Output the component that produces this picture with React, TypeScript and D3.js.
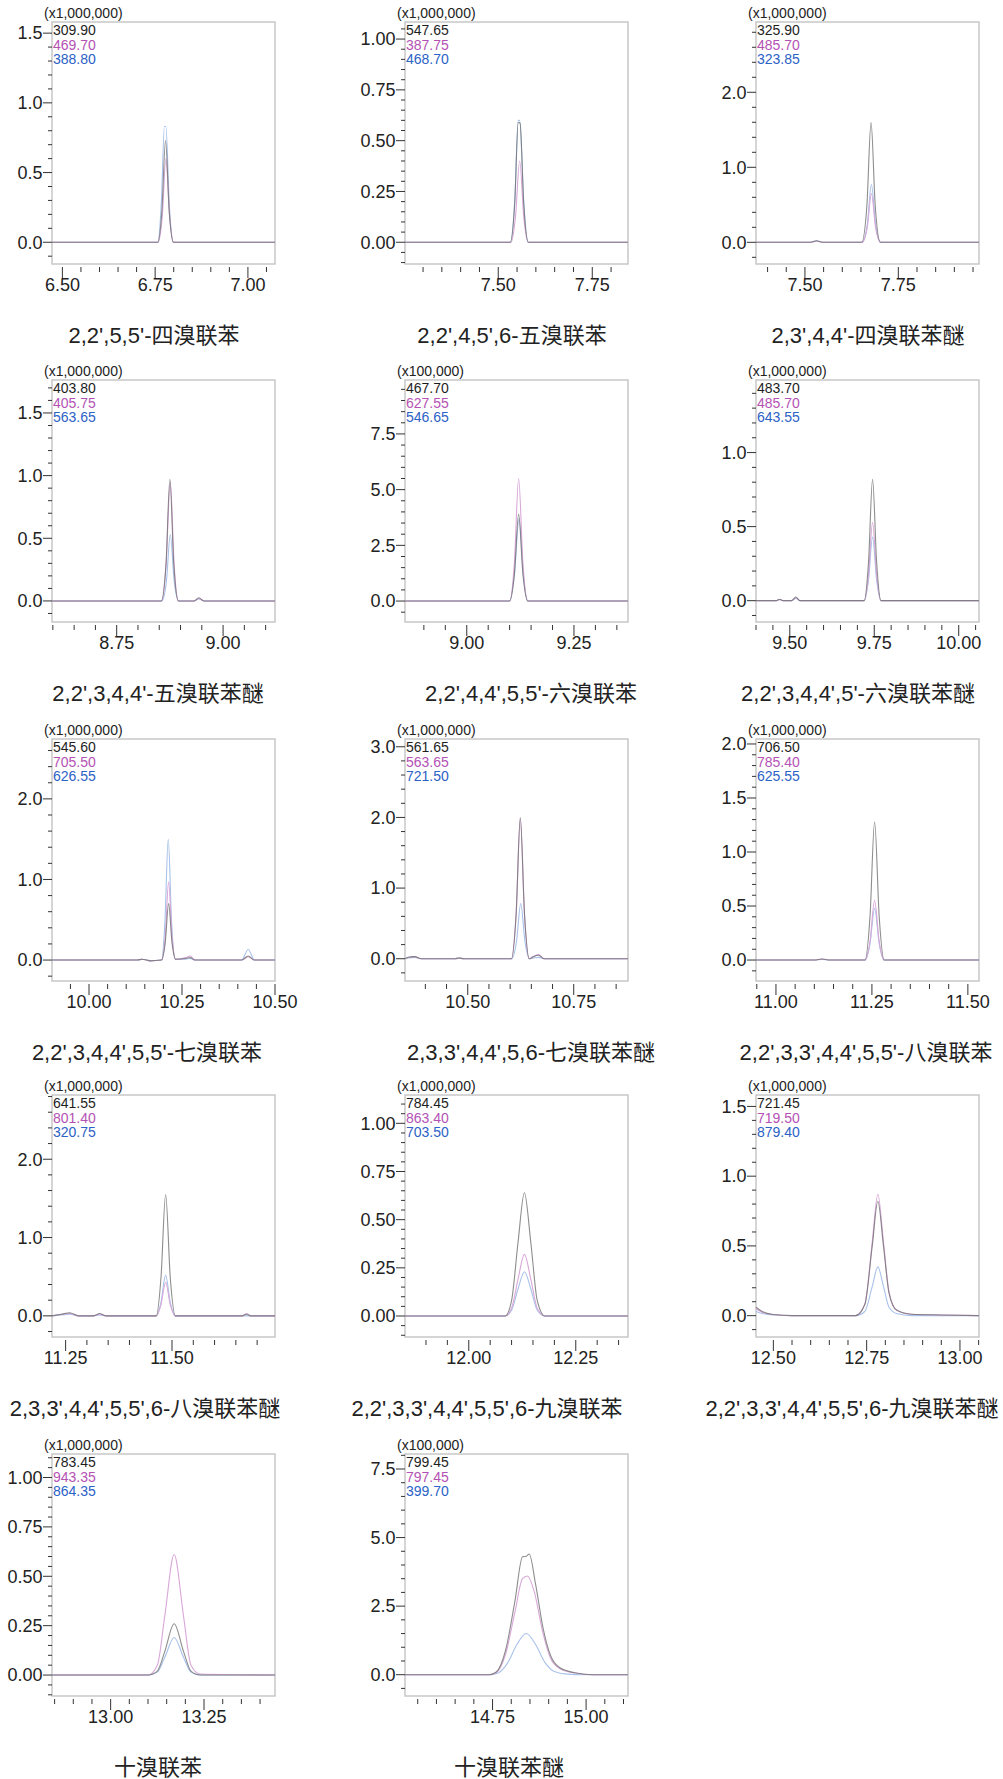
import React from 'react';
import * as d3 from 'd3';

type Pt = [number, number];

// compound names under each chromatogram
const titles = [
  "2,2',5,5'-四溴联苯", "2,2',4,5',6-五溴联苯", "2,3',4,4'-四溴联苯醚",
  "2,2',3,4,4'-五溴联苯醚", "2,2',4,4',5,5'-六溴联苯", "2,2',3,4,4',5'-六溴联苯醚",
  "2,2',3,4,4',5,5'-七溴联苯", "2,3,3',4,4',5,6-七溴联苯醚", "2,2',3,3',4,4',5,5'-八溴联苯",
  "2,3,3',4,4',5,5',6-八溴联苯醚", "2,2',3,3',4,4',5,5',6-九溴联苯", "2,2',3,3',4,4',5,5',6-九溴联苯醚",
  '十溴联苯', '十溴联苯醚',
];

const multipliers = [
  '(x1,000,000)', '(x1,000,000)', '(x1,000,000)',
  '(x1,000,000)', '(x100,000)', '(x1,000,000)',
  '(x1,000,000)', '(x1,000,000)', '(x1,000,000)',
  '(x1,000,000)', '(x1,000,000)', '(x1,000,000)',
  '(x1,000,000)', '(x100,000)',
];

// m/z of the three ions: black, magenta, blue
const ions = [
  ['309.90', '469.70', '388.80'], ['547.65', '387.75', '468.70'], ['325.90', '485.70', '323.85'],
  ['403.80', '405.75', '563.65'], ['467.70', '627.55', '546.65'], ['483.70', '485.70', '643.55'],
  ['545.60', '705.50', '626.55'], ['561.65', '563.65', '721.50'], ['706.50', '785.40', '625.55'],
  ['641.55', '801.40', '320.75'], ['784.45', '863.40', '703.50'], ['721.45', '719.50', '879.40'],
  ['783.45', '943.35', '864.35'], ['799.45', '797.45', '399.70'],
];

// retention time window (min)
const xDomains: Pt[] = [
  [6.472, 7.073], [7.252, 7.845], [7.369, 7.966],
  [8.598, 9.122], [8.856, 9.376], [9.40, 10.06],
  [9.9005, 10.5], [10.352, 10.878], [10.948, 11.529],
  [11.218, 11.742], [11.851, 12.372], [12.4535, 13.051],
  [12.843, 13.44], [14.516, 15.112],
];

const yDomains: Pt[] = [
  [-0.156, 1.58], [-0.107, 1.084], [-0.289, 2.937],
  [-0.168, 1.763], [-0.94, 9.92], [-0.144, 1.49],
  [-0.26, 2.743], [-0.315, 3.11], [-0.194, 2.046],
  [-0.27, 2.82], [-0.109, 1.147], [-0.153, 1.582],
  [-0.106, 1.119], [-0.777, 8.047],
];

const yMajor = [0.5, 0.25, 1, 0.5, 2.5, 0.5, 1, 1, 0.5, 1, 0.25, 0.5, 0.25, 2.5];

// traces: [black, magenta, blue], points [time, intensity]
const p01: Pt[][] = [
  [[6.472, 0], [6.757, 0], [6.768, 0.22], [6.778, 0.73], [6.788, 0.22], [6.799, 0], [7.073, 0]],
  [[6.472, 0], [6.758, 0], [6.769, 0.18], [6.779, 0.6], [6.789, 0.18], [6.8, 0], [7.073, 0]],
  [[6.472, 0], [6.757, 0], [6.767, 0.3], [6.775, 0.83], [6.779, 0.83], [6.788, 0.28], [6.799, 0], [7.073, 0]],
];
const p02: Pt[][] = [
  [[7.252, 0], [7.532, 0], [7.544, 0.2], [7.553, 0.59], [7.558, 0.585], [7.568, 0.18], [7.58, 0], [7.845, 0]],
  [[7.252, 0], [7.534, 0], [7.546, 0.13], [7.557, 0.4], [7.568, 0.12], [7.58, 0], [7.845, 0]],
  [[7.252, 0], [7.532, 0], [7.544, 0.21], [7.553, 0.6], [7.557, 0.6], [7.568, 0.19], [7.58, 0], [7.845, 0]],
];
const p03: Pt[][] = [
  [[7.369, 0], [7.515, 0], [7.531, 0.02], [7.547, 0], [7.652, 0], [7.666, 0.5], [7.677, 1.6], [7.688, 0.5], [7.702, 0], [7.966, 0]],
  [[7.369, 0], [7.515, 0], [7.531, 0.015], [7.547, 0], [7.653, 0], [7.667, 0.2], [7.678, 0.65], [7.689, 0.2], [7.703, 0], [7.966, 0]],
  [[7.369, 0], [7.515, 0], [7.531, 0.02], [7.547, 0], [7.653, 0], [7.667, 0.24], [7.678, 0.77], [7.689, 0.24], [7.703, 0], [7.966, 0]],
];
const p04: Pt[][] = [
  [[8.598, 0], [8.855, 0], [8.866, 0.3], [8.875, 0.97], [8.884, 0.3], [8.895, 0], [8.932, 0], [8.943, 0.025], [8.955, 0], [9.122, 0]],
  [[8.598, 0], [8.855, 0], [8.866, 0.29], [8.876, 0.95], [8.885, 0.29], [8.895, 0], [8.932, 0], [8.943, 0.02], [8.955, 0], [9.122, 0]],
  [[8.598, 0], [8.856, 0], [8.867, 0.16], [8.876, 0.53], [8.885, 0.16], [8.896, 0], [8.932, 0], [8.943, 0.015], [8.955, 0], [9.122, 0]],
];
const p05: Pt[][] = [
  [[8.856, 0], [9.1, 0], [9.111, 1.2], [9.121, 3.9], [9.131, 1.2], [9.142, 0], [9.376, 0]],
  [[8.856, 0], [9.1, 0], [9.111, 1.7], [9.121, 5.5], [9.131, 1.7], [9.142, 0], [9.376, 0]],
  [[8.856, 0], [9.1, 0], [9.111, 1.15], [9.122, 3.7], [9.132, 1.15], [9.143, 0], [9.376, 0]],
];
const p06: Pt[][] = [
  [[9.4, 0], [9.46, 0], [9.47, 0.01], [9.48, 0], [9.505, 0], [9.518, 0.025], [9.53, 0], [9.72, 0], [9.733, 0.26], [9.745, 0.82], [9.757, 0.26], [9.77, 0], [10.06, 0]],
  [[9.4, 0], [9.46, 0], [9.47, 0.008], [9.48, 0], [9.505, 0], [9.518, 0.02], [9.53, 0], [9.72, 0], [9.733, 0.17], [9.745, 0.53], [9.757, 0.17], [9.77, 0], [10.06, 0]],
  [[9.4, 0], [9.46, 0], [9.47, 0.008], [9.48, 0], [9.505, 0], [9.518, 0.015], [9.53, 0], [9.72, 0], [9.733, 0.14], [9.745, 0.43], [9.757, 0.14], [9.77, 0], [10.06, 0]],
];
const p07: Pt[][] = [
  [[9.9005, 0], [10.13, 0], [10.143, 0.01], [10.155, 0], [10.164, -0.01], [10.195, 0], [10.205, 0.22], [10.214, 0.7], [10.223, 0.22], [10.233, 0.01], [10.26, 0.02], [10.272, 0.03], [10.285, 0], [10.41, 0], [10.428, 0.05], [10.445, 0], [10.5, 0]],
  [[9.9005, 0], [10.13, 0], [10.143, 0.01], [10.155, 0], [10.164, -0.01], [10.195, 0], [10.205, 0.3], [10.214, 0.97], [10.223, 0.3], [10.233, 0.01], [10.26, 0.03], [10.272, 0.05], [10.285, 0], [10.41, 0], [10.428, 0.04], [10.445, 0], [10.5, 0]],
  [[9.9005, 0], [10.13, 0], [10.143, 0.01], [10.155, 0], [10.164, -0.01], [10.195, 0], [10.204, 0.47], [10.213, 1.5], [10.222, 0.47], [10.232, 0.01], [10.26, 0.01], [10.272, 0.02], [10.285, 0], [10.41, 0], [10.428, 0.13], [10.445, 0], [10.5, 0]],
];
const p08: Pt[][] = [
  [[10.352, 0], [10.36, 0.02], [10.375, 0.03], [10.39, 0], [10.47, 0], [10.48, 0.01], [10.49, 0], [10.603, 0], [10.614, 0.62], [10.624, 2.0], [10.634, 0.62], [10.645, 0], [10.655, 0.03], [10.667, 0.05], [10.68, 0], [10.878, 0]],
  [[10.352, 0], [10.36, 0.02], [10.375, 0.03], [10.39, 0], [10.47, 0], [10.48, 0.01], [10.49, 0], [10.603, 0], [10.614, 0.61], [10.624, 1.98], [10.634, 0.61], [10.645, 0], [10.655, 0.03], [10.667, 0.06], [10.68, 0], [10.878, 0]],
  [[10.352, 0], [10.36, 0.01], [10.375, 0.02], [10.39, 0], [10.47, 0], [10.48, 0.01], [10.49, 0], [10.604, 0], [10.615, 0.24], [10.625, 0.78], [10.635, 0.24], [10.646, 0], [10.655, 0.01], [10.667, 0.02], [10.68, 0], [10.878, 0]],
];
const p09: Pt[][] = [
  [[10.948, 0], [11.1, 0], [11.12, 0.01], [11.14, 0], [11.232, 0], [11.245, 0.4], [11.257, 1.28], [11.269, 0.4], [11.282, 0], [11.529, 0]],
  [[10.948, 0], [11.1, 0], [11.12, 0.01], [11.14, 0], [11.232, 0], [11.245, 0.17], [11.257, 0.55], [11.269, 0.17], [11.282, 0], [11.529, 0]],
  [[10.948, 0], [11.1, 0], [11.12, 0.005], [11.14, 0], [11.232, 0], [11.245, 0.15], [11.257, 0.48], [11.269, 0.15], [11.282, 0], [11.529, 0]],
];
const p10: Pt[][] = [
  [[11.218, 0], [11.24, 0.02], [11.26, 0.04], [11.28, 0], [11.315, 0], [11.33, 0.03], [11.345, 0], [11.463, 0], [11.474, 0.48], [11.485, 1.55], [11.496, 0.48], [11.508, 0], [11.665, 0], [11.675, 0.02], [11.685, 0], [11.742, 0]],
  [[11.218, 0], [11.24, 0.02], [11.26, 0.03], [11.28, 0], [11.315, 0], [11.33, 0.02], [11.345, 0], [11.463, 0], [11.474, 0.14], [11.485, 0.43], [11.496, 0.14], [11.508, 0], [11.665, 0], [11.675, 0.03], [11.685, 0], [11.742, 0]],
  [[11.218, 0], [11.24, 0.01], [11.26, 0.02], [11.28, 0], [11.315, 0], [11.33, 0.01], [11.345, 0], [11.463, 0], [11.474, 0.17], [11.485, 0.52], [11.496, 0.17], [11.508, 0], [11.665, 0], [11.742, 0]],
];
const p11: Pt[][] = [
  [[11.851, 0], [12.085, 0], [12.1, 0.08], [12.115, 0.38], [12.13, 0.64], [12.145, 0.38], [12.16, 0.08], [12.178, 0], [12.372, 0]],
  [[11.851, 0], [12.085, 0], [12.1, 0.04], [12.115, 0.19], [12.13, 0.32], [12.145, 0.19], [12.16, 0.04], [12.178, 0], [12.372, 0]],
  [[11.851, 0], [12.085, 0], [12.1, 0.03], [12.115, 0.14], [12.13, 0.23], [12.145, 0.14], [12.16, 0.03], [12.178, 0], [12.372, 0]],
];
const p12: Pt[][] = [
  [[12.4535, 0.06], [12.47, 0.03], [12.5, 0.008], [12.55, 0], [12.72, 0], [12.745, 0.08], [12.765, 0.5], [12.78, 0.82], [12.795, 0.5], [12.81, 0.16], [12.83, 0.04], [12.87, 0.01], [12.95, 0.005], [13.051, 0]],
  [[12.4535, 0.05], [12.47, 0.025], [12.5, 0.008], [12.55, 0], [12.72, 0], [12.745, 0.08], [12.765, 0.53], [12.78, 0.87], [12.795, 0.53], [12.81, 0.17], [12.83, 0.04], [12.87, 0.01], [12.95, 0.005], [13.051, 0]],
  [[12.4535, 0.03], [12.47, 0.015], [12.5, 0.005], [12.55, 0], [12.72, 0], [12.745, 0.03], [12.765, 0.21], [12.78, 0.35], [12.795, 0.21], [12.81, 0.06], [12.83, 0.015], [12.87, 0], [13.051, 0]],
];
const p13: Pt[][] = [
  [[12.843, 0], [13.1, 0], [13.125, 0.02], [13.145, 0.12], [13.17, 0.26], [13.195, 0.12], [13.215, 0.02], [13.24, 0], [13.44, 0]],
  [[12.843, 0], [13.1, 0], [13.125, 0.05], [13.145, 0.3], [13.17, 0.61], [13.195, 0.3], [13.215, 0.05], [13.24, 0.005], [13.44, 0]],
  [[12.843, 0], [13.1, 0], [13.125, 0.015], [13.145, 0.09], [13.17, 0.19], [13.195, 0.09], [13.215, 0.015], [13.24, 0], [13.44, 0]],
];
const p14: Pt[][] = [
  [[14.516, 0], [14.74, 0], [14.76, 0.1], [14.785, 0.9], [14.81, 2.7], [14.83, 4.3], [14.84, 4.32], [14.848, 4.4], [14.865, 3.3], [14.885, 1.7], [14.905, 0.7], [14.93, 0.25], [14.97, 0.07], [15.02, 0], [15.112, 0]],
  [[14.516, 0], [14.74, 0], [14.76, 0.08], [14.785, 0.75], [14.81, 2.3], [14.83, 3.5], [14.843, 3.6], [14.86, 3.1], [14.885, 1.5], [14.905, 0.6], [14.93, 0.22], [14.97, 0.06], [15.02, 0], [15.112, 0]],
  [[14.516, 0], [14.745, 0], [14.765, 0.06], [14.79, 0.42], [14.815, 1.1], [14.84, 1.5], [14.865, 1.1], [14.89, 0.45], [14.915, 0.12], [14.95, 0.02], [14.99, 0], [15.112, 0]],
];
const traces = [p01, p02, p03, p04, p05, p06, p07, p08, p09, p10, p11, p12, p13, p14];

// page layout
const colLeft = [52, 405, 756];
const rowTop = [22, 380, 739, 1095, 1454];
const frameW = 223;
const frameH = 242;
const titleCx = [154, 512, 868, 158, 531, 858, 147, 531, 866, 145, 487, 852, 158, 509];

const lineColors = ['#707070', '#d9a8d9', '#a8c2ea'];
const ionColors = ['#1e1e1e', '#b452b4', '#2c62c6'];
const numFont = '"Liberation Sans", Arial, sans-serif';
const titleFont = '"Liberation Sans", "Noto Sans CJK SC", sans-serif';

function Panel({ i }: { i: number }) {
  const left = colLeft[i % 3];
  const top = rowTop[Math.floor(i / 3)];
  const x = d3.scaleLinear().domain(xDomains[i]).range([0, frameW]);
  const y = d3.scaleLinear().domain(yDomains[i]).range([frameH, 0]);
  const line = d3.line<Pt>().x((d) => x(d[0])).y((d) => y(d[1])).curve(d3.curveMonotoneX);

  const [x0, x1] = xDomains[i];
  const xt: { v: number; major: boolean }[] = [];
  for (let k = Math.ceil(x0 * 20 - 1e-6); k <= Math.floor(x1 * 20 + 1e-6); k++) {
    xt.push({ v: k / 20, major: k % 5 === 0 });
  }
  const [y0, y1] = yDomains[i];
  const minor = yMajor[i] / 5;
  const yt: { v: number; major: boolean }[] = [];
  for (let k = Math.ceil(y0 / minor - 1e-6); k <= Math.floor(y1 / minor + 1e-6); k++) {
    yt.push({ v: k * minor, major: k % 5 === 0 });
  }
  const yDec = yMajor[i] === 0.25 ? 2 : 1;

  return (
    <g>
      <g transform={`translate(${left},${top})`}>
        <rect x={0} y={0} width={frameW} height={frameH} fill="none" stroke="#c4c4c4" strokeWidth={1.4} />
        {xt.map((t) => (
          <line key={'x' + t.v} x1={x(t.v)} x2={x(t.v)} y1={frameH + 3} y2={frameH + (t.major ? 14 : 8)} stroke="#333" strokeWidth={1} />
        ))}
        {xt.filter((t) => t.major).map((t) => (
          <text key={'xl' + t.v} x={x(t.v)} y={frameH + 27} textAnchor="middle" fontSize={18} fontFamily={numFont} fill="#222">
            {t.v.toFixed(2)}
          </text>
        ))}
        {yt.map((t) => (
          <line key={'y' + t.v} x1={t.major ? -9 : -4} x2={0} y1={y(t.v)} y2={y(t.v)} stroke="#333" strokeWidth={1} />
        ))}
        {yt.filter((t) => t.major).map((t) => (
          <text key={'yl' + t.v} x={-9.5} y={y(t.v) + 6.3} textAnchor="end" fontSize={18} fontFamily={numFont} fill="#222">
            {Math.abs(t.v) < 1e-9 ? (0).toFixed(yDec) : t.v.toFixed(yDec)}
          </text>
        ))}
        {[2, 1, 0].map((s) => (
          <path key={'t' + s} d={line(traces[i][s]) || ''} fill="none" stroke={lineColors[s]} strokeWidth={1.1} strokeOpacity={s === 0 ? 0.8 : 1} />
        ))}
        <text x={-8} y={-4} fontSize={14} fontFamily={numFont} fill="#222">{multipliers[i]}</text>
        {ions[i].map((m, s) => (
          <text key={'m' + s} x={1} y={13 + s * 14.6} fontSize={14} fontFamily={numFont} fill={ionColors[s]}>{m}</text>
        ))}
      </g>
      <text x={titleCx[i]} y={top + frameH + 79} textAnchor="middle" fontSize={22} fontFamily={titleFont} fill="#222">
        {titles[i]}
      </text>
    </g>
  );
}

export default function App() {
  return (
    <div style={{ position: 'absolute', left: 0, top: 0 }}>
      <svg width={1003} height={1779} style={{ display: 'block', background: '#fff' }}>
        {titles.map((_, i) => (
          <Panel key={i} i={i} />
        ))}
      </svg>
    </div>
  );
}
